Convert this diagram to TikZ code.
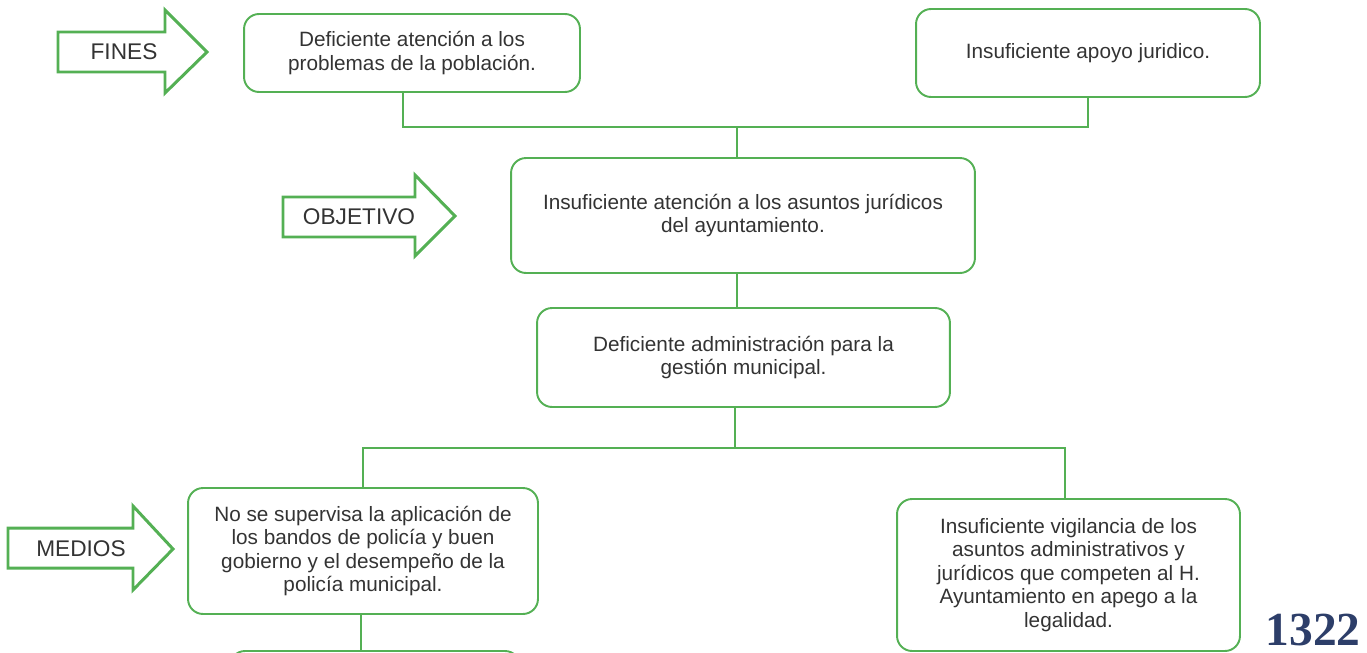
\documentclass[tikz,border=0pt]{standalone}
\usepackage{fontspec}
\setmainfont{Liberation Sans}
\newfontfamily\sellofont{Liberation Serif}
\usetikzlibrary{positioning}
\definecolor{verde}{RGB}{84,176,84}
\definecolor{tinta}{RGB}{45,62,105}

\begin{document}
\begin{tikzpicture}[
  x=0.02cm, y=-0.02cm,
  every node/.style = {align=center, text=black!80},
  caja/.style = {shape=rectangle, draw=verde, line width=1.1pt,
    rounded corners=0.3cm, inner sep=2pt,
    font=\fontsize{11.8}{13.4}\selectfont},
  linea/.style = {draw=verde, line width=1.6pt},
  flecha/.style = {draw=verde, line width=1.7pt, fill=white, line join=miter},
  etiqueta/.style = {font=\fontsize{12.9}{15}\selectfont}]
  \useasboundingbox (0,0) rectangle (1367,653);

  % fines
  \node[caja, minimum width=6.72cm, minimum height=1.56cm] (f1) at (412,53)
    {Deficiente atención a los\\problemas de la población.};
  \node[caja, minimum width=6.88cm, minimum height=1.76cm] (f2) at (1088,53)
    {Insuficiente apoyo juridico.};
  % objetivo
  \node[caja, minimum width=9.28cm, minimum height=2.3cm] (obj) at (743,215.5)
    {Insuficiente atención a los asuntos jurídicos\\del ayuntamiento.};
  \node[caja, minimum width=8.26cm, minimum height=1.98cm] (adm) at (743.5,357.5)
    {Deficiente administración para la\\gestión municipal.};
  % medios
  \node[caja, minimum width=7cm, minimum height=2.52cm] (m1) at (363,551)
    {No se supervisa la aplicación de\\los bandos de policía y buen\\gobierno y el desempeño de la\\policía municipal.};
  \node[caja, minimum width=6.86cm, minimum height=3.04cm] (m2) at (1068.5,575)
    {Insuficiente vigilancia de los\\asuntos administrativos y\\jurídicos que competen al H.\\Ayuntamiento en apego a la\\legalidad.};
  \node[caja, minimum width=5.8cm, minimum height=2cm] (sig) at (375,701) {};

  \coordinate (jf) at (737,127);
  \coordinate (jm) at (735,448);
  \draw[linea] ([xshift=-0.18cm]f1.south) |- (jf) -| (f2.south);
  \draw[linea] (jf) -- (jf |- obj.north);
  \draw[linea] (obj.south -| jf) -- (adm.north -| jf);
  \draw[linea] (adm.south -| jm) -- (jm);
  \draw[linea] (m1.north) |- (jm) -| ([xshift=-0.07cm]m2.north);
  \draw[linea] ([xshift=-0.04cm]m1.south) -- ([xshift=-0.04cm]m1.south |- sig.north);

  % flechas
  \draw[flecha] (58,32) -- (165,32) -- (165,10) -- (207,52) -- (165,93) -- (165,72) -- (58,72) -- cycle;
  \node[etiqueta] (fines) at (124,52) {FINES};
  \draw[flecha] (283,197) -- (415,197) -- (415,175) -- (455,216) -- (415,256) -- (415,237) -- (283,237) -- cycle;
  \node[etiqueta] (objetivo) at (359,217) {OBJETIVO};
  \draw[flecha] (8,528) -- (133,528) -- (133,506) -- (173,549) -- (133,590) -- (133,568) -- (8,568) -- cycle;
  \node[etiqueta] (medios) at (81,549) {MEDIOS};

  \node[text=tinta, font=\sellofont\bfseries\fontsize{27}{30}\selectfont] (folio) at (1313,630) {1322};
\end{tikzpicture}
\end{document}
